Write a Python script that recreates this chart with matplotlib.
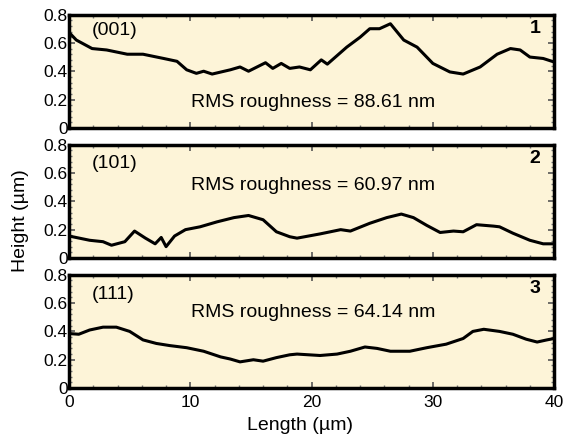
import matplotlib.pyplot as plt
from matplotlib.ticker import MultipleLocator

plt.rcParams['font.family'] = ['Liberation Sans', 'DejaVu Sans']

# profile 1 : (001)
x1 = [0.0, 0.1, 0.6, 1.9, 3.1, 4.8, 6.1, 7.8, 8.9, 9.7, 10.5, 11.1, 11.8, 13.3, 14.1,
      14.8, 16.2, 16.8, 17.5, 18.2, 19.0, 19.9, 20.8, 21.3, 22.9, 24.0, 24.8, 25.6,
      26.5, 27.6, 28.7, 30.0, 31.4, 32.5, 33.9, 35.3, 36.4, 37.2, 38.0, 39.1, 40.0]
y1 = [0.66, 0.665, 0.62, 0.56, 0.55, 0.52, 0.52, 0.49, 0.47, 0.41, 0.385, 0.40, 0.38,
      0.41, 0.43, 0.40, 0.46, 0.42, 0.455, 0.42, 0.43, 0.41, 0.48, 0.45, 0.57, 0.64,
      0.70, 0.70, 0.735, 0.62, 0.57, 0.455, 0.395, 0.38, 0.43, 0.52, 0.56, 0.55, 0.50,
      0.49, 0.465]

# profile 2 : (101)
x2 = [0.0, 1.7, 2.8, 3.5, 4.6, 5.4, 6.3, 7.1, 7.6, 8.0, 8.7, 9.6, 10.8, 12.2, 13.6,
      14.8, 16.0, 17.1, 18.2, 18.8, 20.7, 22.4, 23.2, 24.8, 26.2, 27.4, 28.4, 29.5,
      30.6, 31.7, 32.5, 33.6, 35.0, 35.5, 36.6, 38.0, 39.1, 40.0]
y2 = [0.155, 0.125, 0.115, 0.09, 0.115, 0.19, 0.14, 0.10, 0.145, 0.08, 0.155, 0.20,
      0.22, 0.255, 0.285, 0.30, 0.27, 0.185, 0.15, 0.14, 0.17, 0.20, 0.19, 0.245, 0.285,
      0.31, 0.285, 0.23, 0.18, 0.19, 0.185, 0.235, 0.225, 0.22, 0.175, 0.125, 0.10, 0.10]

# profile 3 : (111)
x3 = [0.0, 0.8, 1.7, 2.8, 3.9, 5.0, 6.1, 7.2, 8.3, 9.7, 11.1, 12.5, 13.3, 14.1, 15.2,
      16.0, 17.1, 18.2, 18.8, 20.7, 22.1, 23.2, 24.4, 25.4, 26.5, 28.1, 29.5, 31.1,
      32.5, 33.3, 34.2, 35.5, 36.6, 37.7, 38.6, 39.4, 40.0]
y3 = [0.385, 0.38, 0.41, 0.43, 0.43, 0.40, 0.34, 0.315, 0.30, 0.285, 0.26, 0.22, 0.205,
      0.185, 0.20, 0.19, 0.215, 0.235, 0.24, 0.23, 0.24, 0.26, 0.29, 0.28, 0.26, 0.26,
      0.285, 0.31, 0.35, 0.40, 0.415, 0.40, 0.38, 0.345, 0.325, 0.34, 0.35]

profiles = [(x1, y1), (x2, y2), (x3, y3)]
planes = ['(001)', '(101)', '(111)']
rms = ['88.61', '60.97', '64.14']
numbers = ['1', '2', '3']

fig = plt.figure(figsize=(5.66, 4.41), dpi=100)
bottoms = [0.710, 0.415, 0.120]
rms_y = [0.18, 0.51, 0.53]
plane_y = [0.69, 0.67, 0.66]

for i in range(3):
    ax = fig.add_axes([0.122, bottoms[i], 0.857, 0.257])
    ax.set_facecolor('#fdf4d8')
    ax.plot(profiles[i][0], profiles[i][1], color='black', lw=2.2)
    ax.set_xlim(0, 40)
    ax.set_ylim(0, 0.8)
    ax.xaxis.set_major_locator(MultipleLocator(10))
    ax.xaxis.set_minor_locator(MultipleLocator(2))
    ax.yaxis.set_minor_locator(MultipleLocator(0.04))
    ax.set_yticks([0, 0.2, 0.4, 0.6, 0.8])
    ax.set_yticklabels(['0', '0.2', '0.4', '0.6', '0.8'])
    ax.tick_params(which='both', direction='in', top=True, right=True,
                   labelsize=12.5)
    ax.tick_params(axis='y', pad=1)
    ax.tick_params(axis='x', pad=5)
    ax.tick_params(which='major', length=4, width=1.2, color='#555555')
    ax.tick_params(which='minor', length=2.5, width=1, color='#777777')
    for s in ax.spines.values():
        s.set_linewidth(2.5)
    if i < 2:
        ax.tick_params(labelbottom=False)
    ax.text(1.9, plane_y[i], planes[i], fontsize=14, va='center', ha='left')
    ax.text(20.1, rms_y[i], 'RMS roughness = ' + rms[i] + ' nm', fontsize=14,
            ha='center', va='center')
    ax.text(38.4, 0.70, numbers[i], fontsize=14, fontweight='bold',
            ha='center', va='center')

fig.text(0.036, 0.5, 'Height (µm)', rotation=90, fontsize=14,
         ha='center', va='center')
fig.text(0.53, 0.035, 'Length (µm)', fontsize=14, ha='center', va='center')

fig.savefig('out.png', dpi=100)
